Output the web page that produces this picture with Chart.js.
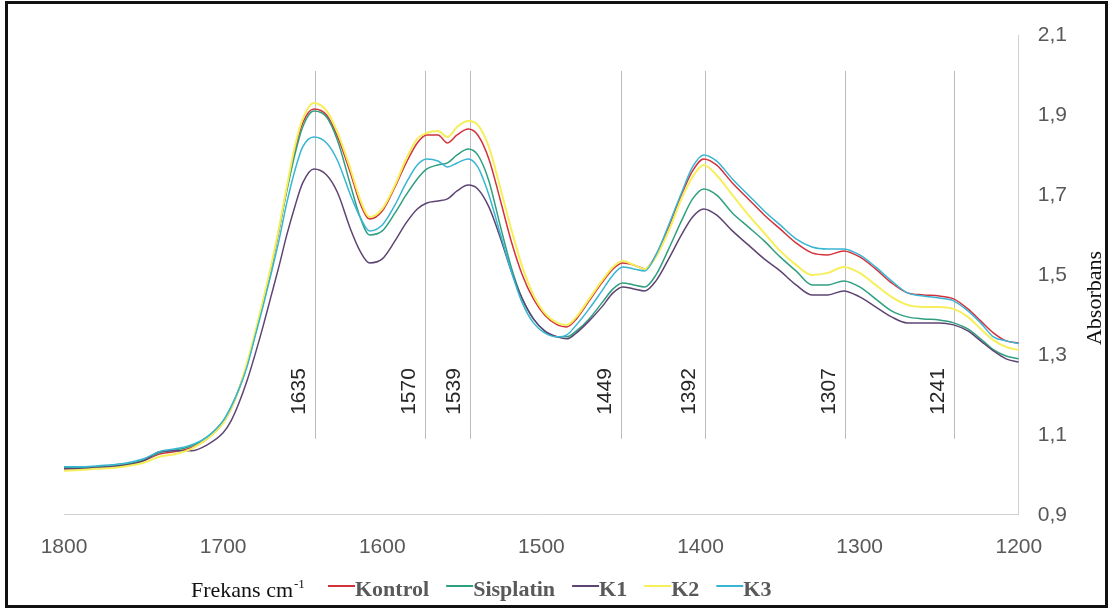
<!DOCTYPE html>
<html>
<head>
<meta charset="utf-8">
<script src="https://cdn.jsdelivr.net/npm/chart.js@4.4.1/dist/chart.umd.min.js"></script>
<style>
body { margin: 0; background: #fff; }
#wrap { width: 1110px; height: 610px; }
</style>
</head>
<body>
<div id="wrap"><canvas id="line-chart"></canvas></div>
<script>
// wavenumbers (cm-1)
frekans = [1800, 1790, 1780, 1770, 1760, 1750, 1740, 1730, 1720, 1710, 1700, 1695, 1690, 1685, 1680, 1675, 1670, 1665, 1660, 1655,
  1650, 1643, 1635, 1628, 1620, 1614, 1608, 1600, 1592, 1585, 1578, 1572, 1565, 1559, 1553, 1546, 1540, 1533, 1526, 1519,
  1512, 1505, 1498, 1490, 1484, 1478, 1470, 1462, 1455, 1449, 1442, 1435, 1428, 1420, 1412, 1405, 1398, 1390, 1380, 1370,
  1360, 1350, 1340, 1330, 1320, 1310, 1300, 1290, 1280, 1270, 1260, 1250, 1241, 1232, 1224, 1216, 1208, 1200]

kontrol = [1.015, 1.015, 1.018, 1.020, 1.025, 1.035, 1.052, 1.058, 1.068, 1.09, 1.13, 1.165, 1.215, 1.275, 1.35, 1.43, 1.515, 1.61, 1.715, 1.81,
  1.88, 1.915, 1.90, 1.845, 1.755, 1.68, 1.64, 1.66, 1.72, 1.78, 1.83, 1.85, 1.85, 1.83, 1.85, 1.865, 1.85, 1.79, 1.69, 1.585,
  1.50, 1.44, 1.40, 1.375, 1.37, 1.39, 1.435, 1.48, 1.515, 1.53, 1.525, 1.515, 1.55, 1.62, 1.70, 1.76, 1.79, 1.775, 1.73, 1.69,
  1.65, 1.615, 1.58, 1.555, 1.55, 1.56, 1.545, 1.515, 1.48, 1.455, 1.45, 1.447, 1.44, 1.415, 1.385, 1.355, 1.335, 1.33]

sisplatin = [1.018, 1.018, 1.020, 1.022, 1.027, 1.037, 1.055, 1.062, 1.072, 1.095, 1.135, 1.17, 1.215, 1.275, 1.35, 1.43, 1.515, 1.61, 1.71, 1.80,
  1.87, 1.91, 1.895, 1.835, 1.725, 1.645, 1.60, 1.61, 1.655, 1.70, 1.74, 1.765, 1.775, 1.78, 1.80, 1.815, 1.80, 1.735, 1.625, 1.52,
  1.44, 1.39, 1.36, 1.345, 1.345, 1.36, 1.39, 1.43, 1.465, 1.48, 1.475, 1.47, 1.50, 1.565, 1.635, 1.69, 1.715, 1.70, 1.655, 1.62,
  1.585, 1.545, 1.51, 1.475, 1.475, 1.485, 1.47, 1.44, 1.41, 1.395, 1.39, 1.387, 1.38, 1.365, 1.34, 1.313, 1.297, 1.29]

k1 = [1.015, 1.015, 1.018, 1.020, 1.025, 1.035, 1.058, 1.060, 1.060, 1.075, 1.105, 1.135, 1.18, 1.235, 1.30, 1.37, 1.445, 1.52, 1.60, 1.67,
  1.73, 1.765, 1.75, 1.705, 1.615, 1.56, 1.53, 1.54, 1.585, 1.63, 1.665, 1.68, 1.685, 1.69, 1.71, 1.725, 1.715, 1.67, 1.595, 1.51,
  1.44, 1.39, 1.36, 1.345, 1.34, 1.355, 1.385, 1.42, 1.455, 1.47, 1.465, 1.46, 1.485, 1.54, 1.60, 1.645, 1.665, 1.65, 1.61, 1.575,
  1.54, 1.51, 1.475, 1.45, 1.45, 1.46, 1.445, 1.42, 1.395, 1.38, 1.38, 1.38, 1.375, 1.36, 1.335, 1.31, 1.29, 1.282]

k2 = [1.010, 1.012, 1.015, 1.017, 1.022, 1.030, 1.045, 1.052, 1.065, 1.09, 1.13, 1.165, 1.215, 1.28, 1.355, 1.435, 1.52, 1.615, 1.72, 1.82,
  1.89, 1.93, 1.91, 1.855, 1.765, 1.69, 1.645, 1.665, 1.725, 1.79, 1.84, 1.855, 1.86, 1.845, 1.87, 1.885, 1.875, 1.82, 1.72, 1.615,
  1.52, 1.45, 1.405, 1.38, 1.375, 1.395, 1.44, 1.485, 1.52, 1.535, 1.525, 1.515, 1.545, 1.61, 1.69, 1.745, 1.775, 1.75, 1.70, 1.65,
  1.605, 1.56, 1.525, 1.50, 1.505, 1.52, 1.505, 1.475, 1.445, 1.425, 1.42, 1.42, 1.415, 1.395, 1.365, 1.337, 1.32, 1.312]

k3 = [1.020, 1.020, 1.022, 1.025, 1.030, 1.040, 1.058, 1.065, 1.075, 1.095, 1.135, 1.17, 1.215, 1.27, 1.345, 1.42, 1.50, 1.585, 1.68, 1.76,
  1.82, 1.845, 1.83, 1.785, 1.70, 1.645, 1.61, 1.625, 1.675, 1.73, 1.775, 1.79, 1.785, 1.77, 1.78, 1.79, 1.77, 1.70, 1.605, 1.51,
  1.43, 1.38, 1.355, 1.345, 1.35, 1.375, 1.415, 1.46, 1.50, 1.52, 1.515, 1.51, 1.55, 1.625, 1.705, 1.77, 1.80, 1.785, 1.74, 1.70,
  1.66, 1.625, 1.59, 1.57, 1.565, 1.565, 1.55, 1.52, 1.485, 1.455, 1.447, 1.442, 1.435, 1.41, 1.38, 1.345, 1.335, 1.328]

seriesNames = ['Kontrol', 'Sisplatin', 'K1', 'K2', 'K3']
seriesColors = ['#d3323b', '#2f9f80', '#5e4473', '#f6ef5a', '#38b5d3']

// marked bands: where the grey lines sit and what they are labelled
peakPositions = [1642, 1573, 1545, 1450, 1397, 1309, 1241]
peakLabels = ['1635', '1570', '1539', '1449', '1392', '1307', '1241']

xTitle = 'Frekans cm'
yTitle = 'Absorbans'

toPoints = function(values){
    return frekans.map(function(f, i){ return {x: f, y: values[i]} })
}

Chart.defaults.font.family = 'Liberation Sans'
Chart.defaults.color = '#595959'

allSeries = [kontrol, sisplatin, k1, k2, k3]
datasets = allSeries.map(function(values, i){
    return {
        label: seriesNames[i],
        data: toPoints(values),
        borderColor: seriesColors[i],
        backgroundColor: seriesColors[i],
        borderWidth: i == 3 ? 2 : 1.5,
        pointRadius: 0,
        fill: false,
        cubicInterpolationMode: 'monotone',
        order: allSeries.length - i
    }
})

peakLinesPlugin = {
    id: 'peakLines',
    beforeDatasetsDraw: function(chart){
        var ctx = chart.ctx, xs = chart.scales.x, ys = chart.scales.y
        var top = ys.getPixelForValue(2.01), bottom = ys.getPixelForValue(1.09)
        ctx.save()
        ctx.strokeStyle = '#bcbcbc'
        ctx.lineWidth = 1
        ctx.fillStyle = '#262626'
        ctx.font = '21px "Liberation Sans"'
        peakPositions.forEach(function(p, i){
            var x = Math.round(xs.getPixelForValue(p)) + 0.5
            ctx.beginPath()
            ctx.moveTo(x, top)
            ctx.lineTo(x, bottom)
            ctx.stroke()
            ctx.save()
            ctx.translate(x - 16, ys.getPixelForValue(1.15))
            ctx.rotate(-Math.PI / 2)
            ctx.textAlign = 'left'
            ctx.textBaseline = 'middle'
            ctx.fillText(peakLabels[i], 0, 0)
            ctx.restore()
        })
        ctx.restore()
    }
}

// legend row, axis titles and outer frame
extrasPlugin = {
    id: 'extras',
    afterDraw: function(chart){
        var ctx = chart.ctx
        ctx.save()
        ctx.fillStyle = '#111'
        ctx.font = '22px "Liberation Serif"'
        ctx.textBaseline = 'alphabetic'
        ctx.textAlign = 'left'
        ctx.fillText(xTitle, 191, 597)
        var w = ctx.measureText(xTitle).width
        ctx.font = '13px "Liberation Serif"'
        ctx.fillText('-1', 191 + w + 1, 588)

        var x = 328
        chart.data.datasets.forEach(function(ds){
            ctx.strokeStyle = ds.borderColor
            ctx.lineWidth = 2
            ctx.beginPath()
            ctx.moveTo(x, 586)
            ctx.lineTo(x + 27, 586)
            ctx.stroke()
            ctx.fillStyle = '#595959'
            ctx.font = 'bold 22px "Liberation Serif"'
            ctx.fillText(ds.label, x + 27, 596)
            x = x + 27 + ctx.measureText(ds.label).width + 17
        })

        ctx.save()
        ctx.translate(1095, 298)
        ctx.rotate(-Math.PI / 2)
        ctx.fillStyle = '#111'
        ctx.font = '22px "Liberation Serif"'
        ctx.textAlign = 'center'
        ctx.textBaseline = 'middle'
        ctx.fillText(yTitle, 0, 0)
        ctx.restore()

        ctx.strokeStyle = '#111'
        ctx.lineWidth = 3
        ctx.strokeRect(6.5, 2.5, 1100, 604)
        ctx.restore()
    }
}

window.onload = function(){
    ctx = document.getElementById('line-chart')
    config = {
        type: 'line',
        data: { datasets: datasets },
        options: {
            responsive: true,
            maintainAspectRatio: false,
            animation: false,
            layout: { padding: { left: 64, right: 24, top: 35, bottom: 30 } },
            plugins: {
                legend: { display: false },
                tooltip: { enabled: false }
            },
            scales: {
                x: {
                    type: 'linear',
                    reverse: true,
                    min: 1200,
                    max: 1800,
                    grid: { display: false, drawTicks: false },
                    border: { display: true, color: '#d0d0d0', width: 1 },
                    ticks: {
                        stepSize: 100,
                        padding: 20,
                        font: { size: 21 },
                        color: '#595959',
                        maxRotation: 0,
                        callback: function(v){ return String(v) }
                    }
                },
                y: {
                    position: 'right',
                    min: 0.9,
                    max: 2.1,
                    grid: { display: false, drawTicks: false },
                    border: { display: true, color: '#d0d0d0', width: 1 },
                    ticks: {
                        stepSize: 0.2,
                        padding: 19,
                        font: { size: 21 },
                        color: '#595959',
                        callback: function(v){ return v.toFixed(1).replace('.', ',') }
                    }
                }
            }
        },
        plugins: [peakLinesPlugin, extrasPlugin]
    }
    createNewChart = new Chart(ctx, config)
}
</script>
</body>
</html>
